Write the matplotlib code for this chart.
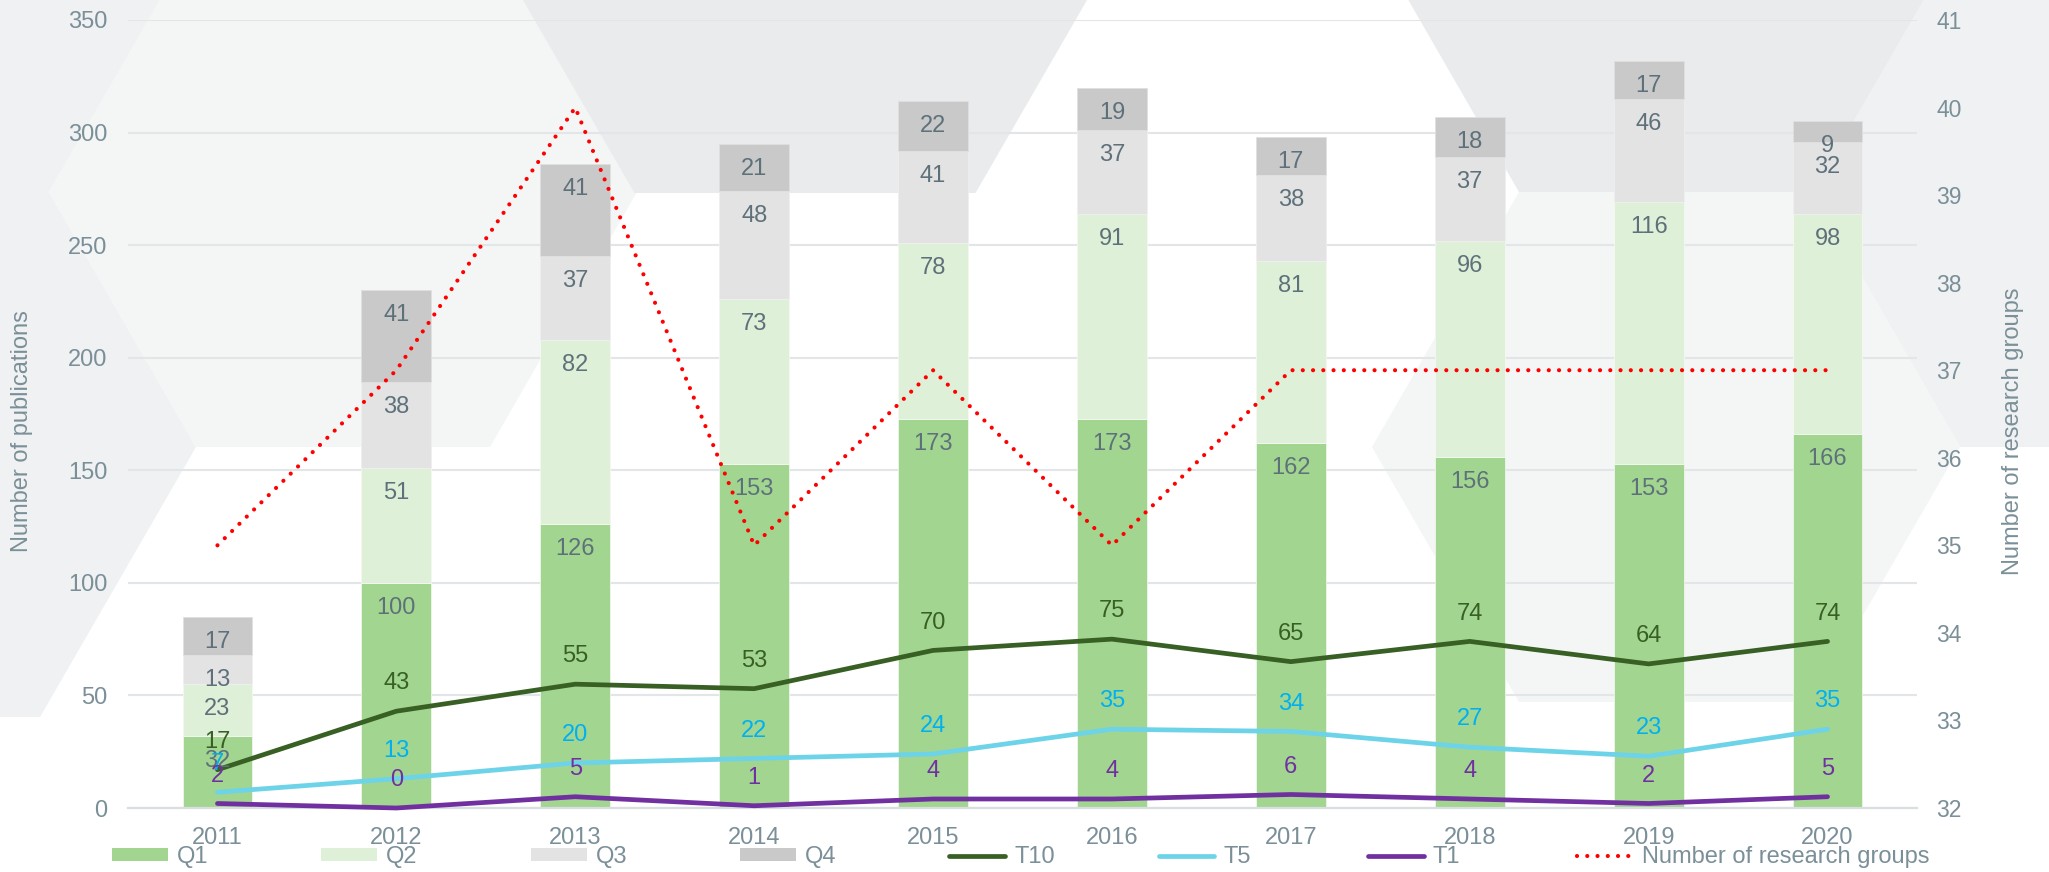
import matplotlib
matplotlib.use("Agg")
import matplotlib.pyplot as plt
from matplotlib.patches import Polygon, Patch
from matplotlib.lines import Line2D
import numpy as np

plt.rcParams['font.family'] = ['Liberation Sans', 'DejaVu Sans']

# ---------------- data ----------------
years = ["2011", "2012", "2013", "2014", "2015", "2016", "2017", "2018", "2019", "2020"]
q1 = [32, 100, 126, 153, 173, 173, 162, 156, 153, 166]
q2 = [23, 51, 82, 73, 78, 91, 81, 96, 116, 98]
q3 = [13, 38, 37, 48, 41, 37, 38, 37, 46, 32]
q4 = [17, 41, 41, 21, 22, 19, 17, 18, 17, 9]
t10 = [17, 43, 55, 53, 70, 75, 65, 74, 64, 74]
t5 = [7, 13, 20, 22, 24, 35, 34, 27, 23, 35]
t1 = [2, 0, 5, 1, 4, 4, 6, 4, 2, 5]
groups = [35, 37, 40, 35, 37, 35, 37, 37, 37, 37]
left_ticks = [0, 50, 100, 150, 200, 250, 300, 350]
right_ticks = [32, 33, 34, 35, 36, 37, 38, 39, 40, 41]

# ---------------- styles ----------------
W, H = 2049, 872
C_Q1, C_Q2, C_Q3, C_Q4 = "#a2d690", "#dff0d8", "#e3e3e3", "#c9c9c9"
C_T10, C_T5, C_T1 = "#385f24", "#6dd3e8", "#7030a0"
C_T10_LBL, C_T5_LBL, C_T1_LBL = "#385f24", "#00b0f0", "#7030a0"
C_RED = "#ff0000"
TXT = "#7a8f98"
BARTXT = "#5e717a"
FS = 17

fig = plt.figure(figsize=(W / 100, H / 100), dpi=100)
fig.patch.set_facecolor("white")


def px(pts):
    return [(x / W, 1 - y / H) for x, y in pts]


def hexagon(cx, cy, R, hh):
    return [(cx - R, cy), (cx - R / 2, cy - hh), (cx + R / 2, cy - hh),
            (cx + R, cy), (cx + R / 2, cy + hh), (cx - R / 2, cy + hh)]


# decorative hexagon background (figure pixels, origin top-left)
bg = [
    ([(0, 0), (160, 0), (49, 192), (196, 447), (40, 717), (0, 717)], "#eff1f3"),
    (hexagon(343, 192, 294, 255), "#f4f6f6"),
    (hexagon(805, -102, 341, 295), "#e9ebec"),
    (hexagon(2107, 192, 294, 255), "#f0f1f3"),
    (hexagon(1666, 447, 294, 255), "#f4f6f6"),
    (hexagon(1666, -63, 294, 255), "#e9ebec"),
]
for pts, col in bg:
    fig.patches.append(Polygon(px(pts), closed=True, transform=fig.transFigure,
                               facecolor=col, edgecolor="none", zorder=-5))

ax = fig.add_axes([128 / W, 1 - 808 / H, (1917 - 128) / W, (808 - 20) / H])
ax.patch.set_alpha(0)
x = np.arange(len(years))
bw = 0.39

q1a, q2a, q3a, q4a = map(np.array, (q1, q2, q3, q4))
bottoms = [np.zeros(len(years)), q1a, q1a + q2a, q1a + q2a + q3a]
series = [q1a, q2a, q3a, q4a]
colors = [C_Q1, C_Q2, C_Q3, C_Q4]
edges = ["#eef6ea", "#f4f8f2", "#efefef", "#e0e0e0"]
for vals, bot, col, ec in zip(series, bottoms, colors, edges):
    ax.bar(x, vals, bw, bottom=bot, color=col, edgecolor=ec, linewidth=0.6, zorder=2)
    # Excel "inside end" labels: just below the top of each segment
    for xi, v, b in zip(x, vals, bot):
        ax.annotate(str(v), (xi, b + v), xytext=(0, -18), textcoords="offset points",
                    ha="center", va="center", fontsize=FS, color=BARTXT, zorder=6)

line_kw = dict(linewidth=3.4, solid_capstyle="round", solid_joinstyle="round", clip_on=False, zorder=4)
ax.plot(x, t10, color=C_T10, **line_kw)
ax.plot(x, t5, color=C_T5, **line_kw)
ax.plot(x, t1, color=C_T1, **line_kw)

for vals, col in [(t10, C_T10_LBL), (t5, C_T5_LBL), (t1, C_T1_LBL)]:
    for xi, v in zip(x, vals):
        ax.annotate(str(v), (xi, v), xytext=(0, 20), textcoords="offset points",
                    ha="center", va="center", fontsize=FS, color=col, zorder=7)

ax.set_xlim(-0.5, len(years) - 0.5)
ax.set_ylim(0, 350)
ax.set_yticks(left_ticks)
ax.set_xticks(x)
ax.set_xticklabels(years)
ax.tick_params(axis="both", length=0, labelsize=FS, labelcolor=TXT)
ax.tick_params(axis="y", pad=15)
ax.tick_params(axis="x", pad=14)
ax.yaxis.grid(True, color="#e2e6e8", linewidth=1.5, zorder=0)
ax.set_axisbelow(True)
for s in ["top", "right", "left"]:
    ax.spines[s].set_visible(False)
ax.spines["bottom"].set_color("#d9dee1")
ax.spines["bottom"].set_linewidth(1.6)
ax.set_ylabel("Number of publications", fontsize=FS, color=TXT)

ax2 = ax.twinx()
ax2.set_ylim(32, 41)
ax2.set_yticks(right_ticks)
ax2.tick_params(axis="y", length=0, labelsize=16.5, labelcolor=TXT, pad=14)
for s in ["top", "right", "left", "bottom"]:
    ax2.spines[s].set_visible(False)
ax2.plot(x, groups, color=C_RED, linewidth=3.0, linestyle=(0, (0.01, 2.45)),
         dash_capstyle="round", zorder=5, clip_on=False)
ax2.set_ylabel("Number of research groups", fontsize=FS, color=TXT, rotation=90)

ax.yaxis.set_label_coords((22 - 128) / (1917 - 128), (808 - 431) / (808 - 20))
ax2.yaxis.set_label_coords((2013 - 128) / (1917 - 128), (808 - 431) / (808 - 20))
ax.yaxis.label.set_va("center")
ax2.yaxis.label.set_va("center")

# legend: evenly spaced single-entry legends
handles = [
    Patch(facecolor=C_Q1, edgecolor="none"),
    Patch(facecolor=C_Q2, edgecolor="none"),
    Patch(facecolor=C_Q3, edgecolor="none"),
    Patch(facecolor=C_Q4, edgecolor="none"),
    Line2D([], [], color=C_T10, linewidth=3.4, solid_capstyle="round"),
    Line2D([], [], color=C_T5, linewidth=3.4, solid_capstyle="round"),
    Line2D([], [], color=C_T1, linewidth=3.4, solid_capstyle="round"),
    Line2D([], [], color=C_RED, linewidth=3.0, linestyle=(0, (0.01, 2.45)), dash_capstyle="round"),
]
labels = ["Q1", "Q2", "Q3", "Q4", "T10", "T5", "T1", "Number of research groups"]
x0, dx, yleg = 112, 209.3, 857
for i, (h, lab) in enumerate(zip(handles, labels)):
    fig.legend(handles=[h], labels=[lab], loc="center left",
               bbox_to_anchor=((x0 + i * dx) / W, 1 - yleg / H), bbox_transform=fig.transFigure,
               frameon=False, fontsize=FS, labelcolor=TXT, handlelength=2.37, handleheight=0.47,
               handletextpad=0.38, borderpad=0, borderaxespad=0)

fig.savefig("out.png", dpi=100, facecolor="white")
